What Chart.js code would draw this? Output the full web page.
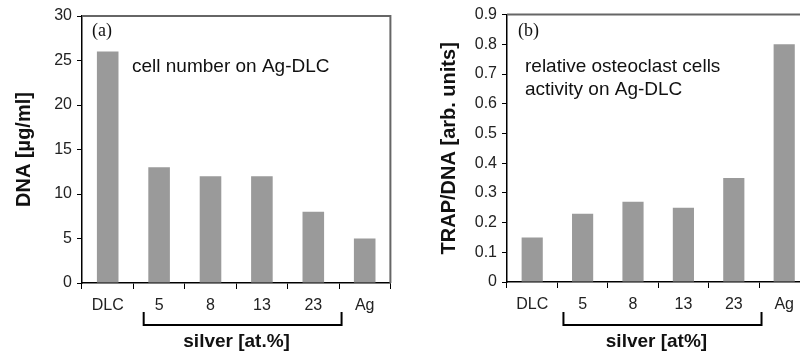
<!DOCTYPE html>
<html>
<head>
<meta charset="utf-8">
<script src="https://cdn.jsdelivr.net/npm/chart.js@4.4.1/dist/chart.umd.min.js"></script>
<style>
  html, body { margin: 0; padding: 0; background: #fff; }
  body { width: 800px; height: 354px; overflow: hidden; position: relative; }
  canvas { position: absolute; top: 0; }
  #chart-a { left: 0; }
  #chart-b { left: 400px; }
</style>
</head>
<body>
<canvas id="chart-a" width="400" height="354"></canvas>
<canvas id="chart-b" width="420" height="354"></canvas>
<script>
// data
const categories = ['DLC', '5', '8', '13', '23', 'Ag'];
const dnaValues = [26, 13, 12, 12, 8, 5];
const trapValues = [0.15, 0.23, 0.27, 0.25, 0.35, 0.8];

const fontFamily = "'Liberation Sans', Arial, sans-serif";
const barColor = '#9a9a9a';

// frame, panel letter, note text and the "silver" bracket
const panelPlugin = {
  id: 'panel',
  afterDraw(chart, args, opts) {
    const ctx = chart.ctx;
    const area = chart.chartArea;
    const x = chart.scales.x;
    ctx.save();

    // grey box top + right
    ctx.strokeStyle = '#666';
    ctx.lineWidth = 2;
    ctx.beginPath();
    ctx.moveTo(area.left, area.top);
    ctx.lineTo(area.right, area.top);
    ctx.lineTo(area.right, area.bottom);
    ctx.stroke();

    ctx.fillStyle = '#111';
    ctx.textAlign = 'left';
    ctx.textBaseline = 'alphabetic';
    ctx.font = "18px 'Liberation Serif', 'Times New Roman', serif";
    ctx.fillText(opts.letter, area.left + opts.letterX, 36);

    ctx.font = '19px ' + fontFamily;
    opts.note.forEach((line, i) => {
      ctx.fillText(line, area.left + opts.noteX, 72 + i * 23);
    });

    // bracket under the silver categories
    const x0 = x.getPixelForValue(opts.bracket[0]);
    const x1 = x.getPixelForValue(opts.bracket[1]);
    ctx.strokeStyle = '#000';
    ctx.lineWidth = 2;
    ctx.beginPath();
    ctx.moveTo(x0, 312);
    ctx.lineTo(x0, 325);
    ctx.lineTo(x1, 325);
    ctx.lineTo(x1, 312);
    ctx.stroke();

    ctx.font = 'bold 19px ' + fontFamily;
    ctx.textAlign = 'center';
    ctx.fillText(opts.silver, (x0 + x1) / 2 - 6, 347);
    ctx.restore();
  }
};

function makeChart(id, values, yTitle, yMax, yStep, layout, panel) {
  return new Chart(document.getElementById(id), {
    type: 'bar',
    data: {
      labels: categories,
      datasets: [{
        data: values,
        backgroundColor: barColor,
        borderWidth: 0,
        barPercentage: 0.42,
        categoryPercentage: 1
      }]
    },
    options: {
      responsive: false,
      devicePixelRatio: 1,
      animation: false,
      layout: { padding: { top: layout.top, right: layout.right, left: 0, bottom: 0 } },
      scales: {
        x: {
          afterFit: s => { s.height = layout.xHeight; },
          grid: { drawOnChartArea: false, drawTicks: true, tickLength: 6, tickColor: '#000', lineWidth: 1 },
          border: { color: '#000', width: 1.5 },
          ticks: { color: '#222', padding: 7, font: { family: fontFamily, size: 16 } }
        },
        y: {
          min: 0,
          max: yMax,
          afterFit: s => { s.width = layout.yWidth; },
          grid: { drawOnChartArea: false, drawTicks: true, tickLength: 5, tickColor: '#000', lineWidth: 1 },
          border: { color: '#000', width: 1.5 },
          ticks: { stepSize: yStep, color: '#222', padding: 5, font: { family: fontFamily, size: 16 } },
          title: {
            display: true,
            text: yTitle,
            color: '#111',
            padding: { top: layout.titlePad, bottom: 0 },
            font: { family: fontFamily, size: 20, weight: 'bold' }
          }
        }
      },
      plugins: {
        legend: { display: false },
        tooltip: { enabled: false },
        panel: panel
      }
    },
    plugins: [panelPlugin]
  });
}

makeChart('chart-a', dnaValues, 'DNA [µg/ml]', 30, 5,
  { top: 16, right: 9.6, xHeight: 71, yWidth: 82, titlePad: 12 },
  { letter: '(a)', letterX: 10, noteX: 50, note: ['cell number on Ag-DLC'],
    bracket: [0.7, 4.55], silver: 'silver [at.%]' });

makeChart('chart-b', trapValues, 'TRAP/DNA [arb. units]', 0.9, 0.1,
  { top: 14, right: 10.6, xHeight: 72, yWidth: 107, titlePad: 37 },
  { letter: '(b)', letterX: 11, noteX: 18, note: ['relative osteoclast cells', 'activity on Ag-DLC'],
    bracket: [0.62, 4.55], silver: 'silver [at%]' });
</script>
</body>
</html>
